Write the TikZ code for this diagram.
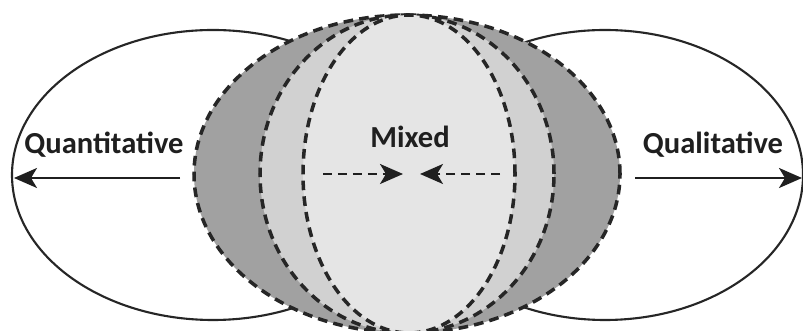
\documentclass[tikz,border=0pt]{standalone}
\usepackage{fontspec}
\setmainfont{Carlito}
\usetikzlibrary{arrows.meta}

\begin{document}
\begin{tikzpicture}[
  side/.style={draw=black!85, line width=1.2pt, fill=white},
  lens/.style={draw=black!85, line width=2pt, dash pattern=on 5.5pt off 3.5pt},
  word/.style={font=\fontsize{17.4}{20}\selectfont\bfseries, text=black!88, inner sep=0pt, anchor=base},
  tip/.style={-{Stealth[length=0.46cm, width=0.4cm, inset=0.12cm]}, line width=1.3pt, draw=black!88}
]
\useasboundingbox (0,0) rectangle (16.06,6.62);

% we draw the two side ellipses
\draw[side] (4.26,3.12) ellipse (4.02cm and 2.9cm);
\draw[side] (12.1,3.12) ellipse (3.96cm and 2.9cm);

% we draw the mixed lens, from outside in
\draw[lens, fill=black!37] (8.14,3.14) ellipse (4.26cm and 3.18cm);
\draw[lens, fill=black!18] (8.14,3.14) ellipse (2.94cm and 3.18cm);
\draw[lens, fill=black!10] (8.18,3.14) ellipse (2.12cm and 3.18cm);

% we add the labels
\node[word] (quant) at (2.08,3.54) {Quantitative};
\node[word] (qual) at (14.26,3.54) {Qualitative};
\node[word] (mixed) at (8.2,3.66) {Mixed};

% the arrow ends
\coordinate (quant start) at (3.6,3.06);
\coordinate (quant end) at (0.28,3.06);
\coordinate (qual start) at (12.7,3.06);
\coordinate (qual end) at (16.04,3.06);
\coordinate (mixleft start) at (6.46,3.14);
\coordinate (mixleft end) at (8.06,3.14);
\coordinate (mixright start) at (10.0,3.14);
\coordinate (mixright end) at (8.4,3.14);

% solid arrows outwards
\draw[tip] (quant start) -- (quant end);
\draw[tip] (qual start) -- (qual end);

% dashed arrows inwards
\draw[tip, dash pattern=on 5pt off 3.5pt] (mixleft start) -- (mixleft end);
\draw[tip, dash pattern=on 5pt off 3.5pt] (mixright start) -- (mixright end);

\end{tikzpicture}
\end{document}
